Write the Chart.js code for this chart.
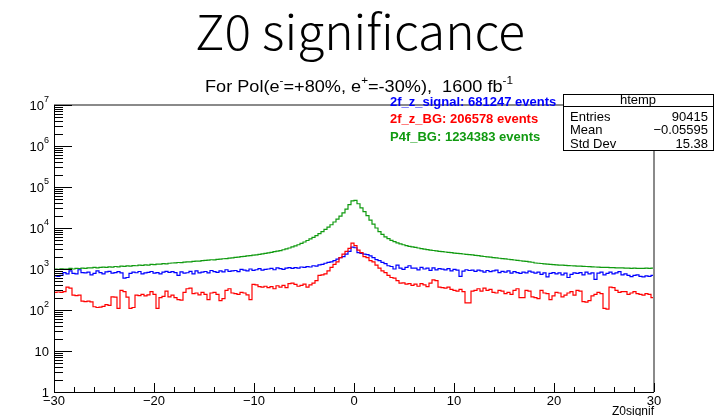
<!DOCTYPE html>
<html>
<head>
<meta charset="utf-8">
<script src="https://cdn.jsdelivr.net/npm/chart.js@4/dist/chart.umd.min.js"></script>
<style>
  html, body { margin: 0; padding: 0; background: #fff; }
  #c { display: block; }
</style>
</head>
<body>
<canvas id="c" width="720" height="416"></canvas>
<script>
// histogram binning: 200 bins from -30 to 30
var binLow = -30;
var binWidth = 0.3;

// 2f_z_signal (blue)
var signal = [
  680, 660, 700, 820, 760, 900, 780, 760, 960, 820,
  800, 840, 720, 780, 900, 820, 760, 850, 880, 790,
  820, 860, 800, 600, 620, 780, 840, 810, 870, 760,
  800, 830, 870, 790, 820, 760, 840, 880, 830, 860,
  820, 700, 850, 790, 810, 880, 760, 900, 800, 840,
  870, 800, 920, 860, 830, 900, 850, 960, 880, 900,
  920, 860, 980, 940, 900, 1000, 930, 960, 1020, 940,
  980, 1000, 1040, 960, 1060, 1020, 980, 1050, 1080, 1040,
  1080, 1050, 1120, 1100, 1140, 1120, 1200, 1180, 1260, 1300,
  1380, 1450, 1500, 1600, 1750, 1900, 2000, 2300, 2700, 3400,
  3300, 2500, 2400, 2300, 2250, 2100, 1900, 1700, 1600, 1450,
  1350, 1200, 1150, 1000, 1250, 1050, 980, 1100, 1200, 1050,
  1050, 950, 1100, 1000, 1050, 930, 1060, 950, 1020, 990,
  950, 1020, 900, 980, 940, 660, 890, 960, 920, 940,
  880, 940, 900, 840, 920, 860, 900, 940, 820, 880,
  840, 900, 790, 860, 820, 780, 840, 800, 890, 840,
  790, 840, 740, 800, 640, 780, 820, 760, 800, 720,
  790, 620, 740, 800, 780, 820, 720, 840, 760, 800,
  560, 790, 840, 720, 780, 840, 760, 800, 860, 720,
  760, 700, 650, 700, 720, 660, 640, 680, 660, 700
];

// 2f_z_BG (red)
var bg2f = [
  270, 275, 270, 280, 360, 340, 230, 225, 230, 165,
  160, 165, 158, 120, 115, 118, 122, 135, 130, 210,
  205, 110, 300, 280, 205, 110, 115, 230, 225, 240,
  220, 235, 280, 240, 110, 200, 215, 290, 210, 230,
  200, 180, 175, 270, 330, 340, 250, 260, 235, 270,
  240, 180, 260, 270, 240, 170, 190, 300, 330, 260,
  250, 240, 270, 260, 235, 180, 420, 410, 370, 360,
  380, 350, 370, 330, 390, 360, 400, 350, 440, 450,
  420, 380, 400, 430, 360, 410, 450, 520, 700, 720,
  760, 900, 1100, 1300, 1500, 1900, 2300, 2700, 3200, 4300,
  3700, 2900, 2500, 2000, 1900, 1600, 1500, 1250, 1050, 900,
  820, 700, 620, 600, 520, 450, 460, 430, 440, 400,
  430, 380, 440, 410, 370, 450, 540, 520, 360, 350,
  340, 360, 320, 300, 290, 320, 280, 150, 150, 290,
  300, 330, 290, 340, 300, 320, 270, 260, 300, 290,
  250, 270, 240, 300, 330, 200, 200, 300, 290, 210,
  200, 190, 300, 260, 250, 180, 220, 270, 260, 210,
  230, 260, 280, 230, 300, 290, 160, 155, 170, 220,
  240, 270, 250, 110, 105, 360, 350, 300, 270, 280,
  280, 240, 260, 280, 250, 240, 230, 250, 240, 200
];

// P4f_BG (green)
var bg4f = [
  1000, 980, 1010, 990, 1000, 1030, 1000, 1040, 1020, 1050,
  1040, 1070, 1060, 1090, 1070, 1090, 1110, 1100, 1130, 1110,
  1150, 1130, 1170, 1160, 1190, 1180, 1210, 1200, 1240, 1230,
  1260, 1250, 1290, 1280, 1320, 1310, 1350, 1340, 1380, 1400,
  1410, 1440, 1430, 1470, 1500, 1490, 1530, 1560, 1550, 1600,
  1620, 1650, 1680, 1670, 1720, 1750, 1780, 1800, 1850, 1870,
  1920, 1950, 2000, 2030, 2080, 2120, 2180, 2220, 2280, 2350,
  2400, 2480, 2550, 2640, 2720, 2820, 2950, 3080, 3250, 3450,
  3650, 3900, 4200, 4550, 4950, 5400, 5900, 6500, 7300, 8200,
  9300, 10500, 12000, 14000, 16500, 19500, 23500, 29000, 37000, 46000,
  47000, 39000, 31000, 25000, 20000, 15500, 12500, 10000, 8200, 7000,
  6100, 5500, 5000, 4650, 4350, 4100, 3900, 3700, 3550, 3450,
  3350, 3250, 3150, 3050, 2980, 2900, 2830, 2760, 2700, 2650,
  2600, 2550, 2500, 2450, 2410, 2360, 2320, 2280, 2230, 2200,
  2150, 2110, 2060, 2020, 1980, 1950, 1900, 1870, 1830, 1800,
  1760, 1730, 1690, 1660, 1620, 1590, 1560, 1530, 1490, 1460,
  1400, 1380, 1360, 1330, 1310, 1300, 1280, 1260, 1250, 1240,
  1220, 1210, 1200, 1190, 1180, 1170, 1160, 1150, 1140, 1130,
  1120, 1110, 1100, 1100, 1090, 1080, 1080, 1070, 1060, 1060,
  1050, 1050, 1040, 1050, 1040, 1030, 1040, 1050, 1040, 1050
];

var legendLabels = ['2f_z_signal: 681247 events', '2f_z_BG: 206578 events', 'P4f_BG: 1234383 events'];
var statsRows = [['Entries', '90415'], ['Mean', '\u22120.05595'], ['Std Dev', '15.38']];
var xTickValues = [-30, -20, -10, 0, 10, 20, 30];
var xTickLabels = ['\u221230', '\u221220', '\u221210', '0', '10', '20', '30'];
var yDecades = [1, 10, 100, 1000, 10000, 100000, 1000000, 10000000];
var yExponents = ['', '', '2', '3', '4', '5', '6', '7'];

function toSteps(vals) {
    var pts = vals.map(function(v, i) { return {x: binLow + i * binWidth, y: v}; });
    pts.push({x: binLow + vals.length * binWidth, y: vals[vals.length - 1]});
    return pts;
}

function supText(ctx, x, y, base, sup, font, supFont, align) {
    // draws base text with a raised exponent, x is right edge when align == 'right'
    ctx.font = font;
    var wb = ctx.measureText(base).width;
    ctx.font = supFont;
    var ws = sup ? ctx.measureText(sup).width : 0;
    var x0 = align === 'right' ? x - wb - ws : x;
    ctx.textAlign = 'left';
    ctx.font = font;
    ctx.fillText(base, x0, y);
    if (sup) {
        ctx.font = supFont;
        ctx.fillText(sup, x0 + wb, y - 6);
    }
}

var rootDecor = {
    id: 'rootDecor',
    afterDraw: function(chart) {
        var ctx = chart.ctx;
        var a = chart.chartArea;
        var xs = chart.scales.x, ys = chart.scales.y;
        ctx.save();

        // frame
        ctx.lineWidth = 2;
        ctx.strokeStyle = '#8a8a8a';
        ctx.beginPath();
        ctx.moveTo(a.left, a.top); ctx.lineTo(a.right, a.top); ctx.lineTo(a.right, a.bottom);
        ctx.stroke();
        ctx.lineWidth = 1;
        ctx.strokeStyle = '#000';
        ctx.beginPath();
        ctx.moveTo(a.left + 0.5, a.top); ctx.lineTo(a.left + 0.5, a.bottom + 0.5); ctx.lineTo(a.right, a.bottom + 0.5);
        ctx.stroke();

        // y ticks (log)
        ctx.beginPath();
        for (var d = 0; d < yDecades.length; d++) {
            var py = Math.round(ys.getPixelForValue(yDecades[d])) + 0.5;
            ctx.moveTo(a.left, py); ctx.lineTo(a.left + 18, py);
            if (d < yDecades.length - 1) {
                for (var m = 2; m <= 9; m++) {
                    var pm = Math.round(ys.getPixelForValue(yDecades[d] * m)) + 0.5;
                    ctx.moveTo(a.left, pm); ctx.lineTo(a.left + 9, pm);
                }
            }
        }
        // x ticks
        for (var t = -30; t <= 30; t += 2) {
            var px = Math.round(xs.getPixelForValue(t)) + 0.5;
            var len = (t % 10 === 0) ? 9 : 5;
            ctx.moveTo(px, a.bottom); ctx.lineTo(px, a.bottom - len);
        }
        ctx.stroke();

        // y labels
        ctx.fillStyle = '#000';
        ctx.textBaseline = 'middle';
        for (var k = 0; k < yDecades.length; k++) {
            var ly = ys.getPixelForValue(yDecades[k]) + 1;
            var base = k === 0 ? '1' : '10';
            supText(ctx, a.left - 5, ly, base, yExponents[k], '13px "Liberation Sans", Arial', '9px "Liberation Sans", Arial', 'right');
        }
        // x labels
        ctx.textBaseline = 'alphabetic';
        ctx.textAlign = 'center';
        ctx.font = '13px "Liberation Sans", Arial';
        for (var j = 0; j < xTickValues.length; j++) {
            ctx.fillText(xTickLabels[j], xs.getPixelForValue(xTickValues[j]), a.bottom + 13);
        }
        ctx.textAlign = 'right';
        ctx.font = '12px "Liberation Sans", Arial';
        ctx.fillText('Z0signif', a.right, a.bottom + 23);

        // main title, squeezed to the reference width
        ctx.textAlign = 'left';
        ctx.font = '300 48px "Noto Sans CJK JP", "Noto Sans", sans-serif';
        var title = 'Z0 significance';
        var tw = ctx.measureText(title).width;
        ctx.save();
        ctx.translate(195, 50);
        ctx.scale(330 / tw, 1);
        ctx.fillText(title, 0, 0);
        ctx.restore();

        // subtitle with super scripts, squeezed to the reference width
        var parts = [['For Pol(e', '-'], ['=+80%, e', '+'], ['=-30%),  1600 fb', '-1']];
        var f1 = '17px "Liberation Sans", Arial', f2 = '11px "Liberation Sans", Arial';
        var total = 0;
        parts.forEach(function(p) {
            ctx.font = f1; total += ctx.measureText(p[0]).width;
            ctx.font = f2; total += ctx.measureText(p[1]).width;
        });
        ctx.save();
        ctx.translate(205, 92);
        ctx.scale(308 / total, 1);
        var cx = 0;
        parts.forEach(function(p) {
            ctx.font = f1; ctx.fillText(p[0], cx, 0); cx += ctx.measureText(p[0]).width;
            ctx.font = f2; ctx.fillText(p[1], cx, -8); cx += ctx.measureText(p[1]).width;
        });
        ctx.restore();

        // legend text
        ctx.font = 'bold 13px "Liberation Sans", Arial';
        var cols = ['#0000ff', '#ff0000', '#109a10'];
        var ly0 = [106, 123, 141];
        for (var q = 0; q < legendLabels.length; q++) {
            ctx.fillStyle = cols[q];
            ctx.fillText(legendLabels[q], 390, ly0[q]);
        }

        // stats box
        ctx.fillStyle = '#fff';
        ctx.fillRect(563, 94, 150, 56);
        ctx.strokeStyle = '#000';
        ctx.lineWidth = 1;
        ctx.strokeRect(563.5, 94.5, 150, 56);
        ctx.beginPath(); ctx.moveTo(563, 106.5); ctx.lineTo(713, 106.5); ctx.stroke();
        ctx.fillStyle = '#000';
        ctx.font = '13px "Liberation Sans", Arial';
        ctx.textAlign = 'center';
        ctx.fillText('htemp', 638, 104);
        for (var r = 0; r < statsRows.length; r++) {
            var by = 120.5 + r * 13.5;
            ctx.textAlign = 'left';
            ctx.fillText(statsRows[r][0], 570, by);
            ctx.textAlign = 'right';
            ctx.fillText(statsRows[r][1], 708, by);
        }
        ctx.restore();
    }
};

var ctx = document.getElementById('c');
var myChart = new Chart(ctx, {
    type: 'line',
    data: {
        datasets: [
            { label: legendLabels[1], data: toSteps(bg2f), borderColor: '#ff0000', order: 1 },
            { label: legendLabels[0], data: toSteps(signal), borderColor: '#0000ff', order: 2 },
            { label: legendLabels[2], data: toSteps(bg4f), borderColor: '#109a10', order: 3 }
        ]
    },
    options: {
        responsive: false,
        animation: false,
        devicePixelRatio: 1,
        layout: { padding: { left: 54, right: 66, top: 105, bottom: 24 } },
        elements: {
            line: { borderWidth: 1.2, stepped: 'before', fill: false, tension: 0 },
            point: { radius: 0 }
        },
        scales: {
            x: { type: 'linear', min: -30, max: 30, display: false },
            y: { type: 'logarithmic', min: 1, max: 10000000, display: false }
        },
        plugins: {
            legend: { display: false },
            tooltip: { enabled: false },
            title: { display: false }
        }
    },
    plugins: [rootDecor]
});
</script>
</body>
</html>
